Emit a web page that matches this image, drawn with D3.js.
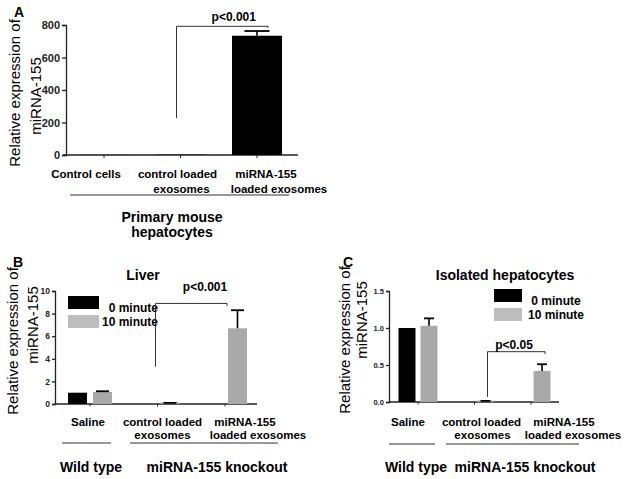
<!DOCTYPE html>
<html>
<head>
<meta charset="utf-8">
<script src="https://cdn.jsdelivr.net/npm/d3@7.9.0/dist/d3.min.js"></script>
<style>
  body { margin: 0; background: #fff; }
  svg { display: block; font-family: Arial, "Liberation Sans", sans-serif; }
  .tick text { font-weight: bold; fill: #222; }
  .domain, .tick line { stroke: #222; stroke-width: 1.3; }
</style>
</head>
<body>
<svg id="chart" width="629" height="479"></svg>
<script>
// panel A: primary mouse hepatocytes
const catsA = ['Control cells', 'control loaded exosomes', 'miRNA-155 loaded exosomes'];
const labelsA = [['Control cells'], ['control  loaded', 'exosomes'], ['miRNA-155', 'loaded exosomes']];
const valuesA = [1, 2, 734];
const errA = [0, 0, 29];
const ticksA = [0, 200, 400, 600, 800];

// panels B and C share categories / series
const catsBC = ['Saline', 'control loaded exosomes', 'miRNA-155 loaded exosomes'];
const labelsBC = [['Saline'], ['control loaded', 'exosomes'], ['miRNA-155', 'loaded exosomes']];
const series = ['0 minute', '10 minute'];
const seriesColors = ['#000000', '#a9a9a9'];

// B: liver
const liver0 = [1.0, 0, 0];
const liver10 = [1.06, 0.07, 6.7];
const liver10Err = [0.07, 0.03, 1.6];
const ticksB = [0, 2, 4, 6, 8, 10];

// C: isolated hepatocytes
const hep0 = [1.0, 0, 0];
const hep10 = [1.03, 0.01, 0.42];
const hep10Err = [0.1, 0.005, 0.09];
const ticksC = [0, 0.5, 1.0, 1.5];

const svg = d3.select('#chart');

function yTitle(g, x1, y1, x2, y2) {
  g.append('text').attr('transform', `translate(${x1},${y1}) rotate(-90)`)
    .attr('text-anchor', 'middle').style('font-size', '15px').text('Relative expression of');
  g.append('text').attr('transform', `translate(${x2},${y2}) rotate(-90)`)
    .attr('text-anchor', 'middle').style('font-size', '15px').text('miRNA-155');
}

function boldText(g, x, y, size, txt, anchor = 'middle') {
  return g.append('text').attr('x', x).attr('y', y).attr('text-anchor', anchor)
    .style('font-size', size + 'px').style('font-weight', 'bold').text(txt);
}

function catLabels(g, x, cats, labels, offsets, y0, lh) {
  cats.forEach((c, i) => {
    labels[i].forEach((line, j) => {
      boldText(g, x(c) + offsets[i][j], y0 + j * lh, 11.5, line);
    });
  });
}

function errBar(g, cx, yTop, yErr, cap) {
  g.append('line').attr('x1', cx).attr('x2', cx).attr('y1', yTop).attr('y2', yErr)
    .attr('stroke', '#000').attr('stroke-width', 1.6);
  g.append('line').attr('x1', cx - cap / 2).attr('x2', cx + cap / 2).attr('y1', yErr).attr('y2', yErr)
    .attr('stroke', '#000').attr('stroke-width', 1.8);
}

function bracket(g, xl, xr, yBottom, yTop, yTick) {
  g.append('path').attr('d', `M${xl},${yBottom}V${yTop}H${xr}V${yTick}`)
    .attr('fill', 'none').attr('stroke', '#333').attr('stroke-width', 1);
}

// ---------- Panel A ----------
{
  const g = svg.append('g');
  const y = d3.scaleLinear().domain([0, 800]).range([155, 25]);
  const x = d3.scalePoint().domain(catsA).range([104, 257]);
  const axisX = 66;

  g.append('g').attr('transform', `translate(${axisX},0)`)
    .call(d3.axisLeft(y).tickValues(ticksA).tickSize(4).tickPadding(2))
    .call(a => a.selectAll('text').style('font-size', '11px'));
  // x axis baseline with small ticks
  g.append('line').attr('x1', axisX - 3).attr('x2', 298).attr('y1', y(0)).attr('y2', y(0))
    .attr('stroke', '#222').attr('stroke-width', 1.3);
  catsA.forEach(c => g.append('line').attr('x1', x(c)).attr('x2', x(c))
    .attr('y1', y(0)).attr('y2', y(0) + 3).attr('stroke', '#222'));

  const bw = 50;
  catsA.forEach((c, i) => {
    g.append('rect').attr('x', x(c) - bw / 2).attr('width', bw)
      .attr('y', y(valuesA[i])).attr('height', y(0) - y(valuesA[i])).attr('fill', '#000');
    if (errA[i] > 0) errBar(g, x(c), y(valuesA[i]), y(valuesA[i] + errA[i]), 25);
  });

  bracket(g, x(catsA[1]) - 4, x(catsA[2]) + 11, y(228), y(792), y(782));
  boldText(g, (x(catsA[1]) + x(catsA[2])) / 2 + 15, 21, 12, 'p<0.001');

  catLabels(g, x, catsA, labelsA, [[-18], [-3, 1], [9, 22]], 178, 15);
  g.append('line').attr('x1', 70).attr('x2', 289).attr('y1', 195).attr('y2', 195)
    .attr('stroke', '#333').attr('stroke-width', 1);
  boldText(g, 172, 222, 14, 'Primary mouse');
  boldText(g, 172, 237, 14, 'hepatocytes');

  yTitle(g, 20, 93, 41, 96);
  boldText(g, 14, 17, 14, 'A', 'start');
}

// ---------- grouped panels B / C ----------
function groupedPanel(opt) {
  const g = svg.append('g');
  const y = d3.scaleLinear().domain(opt.domain).range(opt.yRange);
  const x = d3.scalePoint().domain(catsBC).range(opt.xRange);
  const sub = d3.scalePoint().domain(series).range([-opt.off, opt.off]);

  g.append('g').attr('transform', `translate(${opt.axisX},0)`)
    .call(d3.axisLeft(y).tickValues(opt.ticks).tickSize(3).tickPadding(2)
      .tickFormat(opt.fmt))
    .call(a => a.selectAll('text').style('font-size', opt.tickFont + 'px'));
  g.append('line').attr('x1', opt.axisX).attr('x2', opt.xEnd).attr('y1', y(0)).attr('y2', y(0))
    .attr('stroke', '#222').attr('stroke-width', 1.3);
  catsBC.forEach(c => g.append('line').attr('x1', x(c)).attr('x2', x(c))
    .attr('y1', y(0)).attr('y2', y(0) + 2.5).attr('stroke', '#222'));

  const data = [opt.v0, opt.v10];
  series.forEach((s, si) => {
    catsBC.forEach((c, i) => {
      const v = data[si][i];
      if (v <= 0) return;
      const cx = x(c) + sub(s);
      const top = Math.min(y(v), y(0) - 1.5);
      g.append('rect').attr('x', cx - opt.bw / 2).attr('width', opt.bw)
        .attr('y', top).attr('height', y(0) - top).attr('fill', seriesColors[si]);
    });
  });
  catsBC.forEach((c, i) => {
    const cx = x(c) + sub(series[1]);
    errBar(g, cx, y(opt.v10[i]), y(opt.v10[i] + opt.err[i]), opt.cap);
  });

  // legend
  series.forEach((s, si) => {
    g.append('rect').attr('x', opt.leg.x).attr('y', opt.leg.y + si * 19)
      .attr('width', opt.leg.w).attr('height', 13).attr('fill', si ? '#bdbdbd' : '#000');
    boldText(g, opt.leg.tx, opt.leg.y + 16 + si * 13.5, 12, s, opt.leg.anchor);
  });

  const sb = opt.sig;
  bracket(g, x(catsBC[1]) + sb.dl, x(catsBC[2]) + sb.dr, y(sb.lo), y(sb.hi), y(sb.hi) + 2.5);
  boldText(g, sb.tx, sb.ty, 12, sb.text);

  boldText(g, opt.title.x, 280, 14, opt.title.text);
  catLabels(g, x, catsBC, labelsBC, opt.labOff, 426, 13);

  opt.groups.forEach(gr => {
    g.append('line').attr('x1', gr.x1).attr('x2', gr.x2).attr('y1', opt.lineY).attr('y2', opt.lineY)
      .attr('stroke', '#333').attr('stroke-width', 1);
    boldText(g, gr.tx, 472, 14, gr.text);
  });

  yTitle(g, ...opt.yt);
  boldText(g, opt.letter.x, 267, 14, opt.letter.text, 'start');
}

groupedPanel({
  domain: [0, 10], yRange: [404, 291], xRange: [90, 225], off: 12.5, bw: 19, cap: 13,
  axisX: 55, xEnd: 257, ticks: ticksB, fmt: d3.format('d'), tickFont: 8.5,
  v0: liver0, v10: liver10, err: liver10Err,
  leg: { x: 68, y: 296, w: 31, tx: 158, anchor: 'end' },
  sig: { dl: -2, dr: 2, lo: 3.3, hi: 8.9, text: 'p<0.001', tx: 205, ty: 291 },
  title: { x: 143, text: 'Liver' },
  labOff: [[-2], [5, 5], [20, 33]],
  lineY: 443,
  groups: [{ x1: 62, x2: 111, tx: 91, text: 'Wild type' },
           { x1: 130, x2: 278, tx: 217, text: 'miRNA-155 knockout' }],
  yt: [18, 341, 38, 325],
  letter: { x: 13, text: 'B' }
});

groupedPanel({
  domain: [0, 1.5], yRange: [402, 291], xRange: [418, 531], off: 11, bw: 17, cap: 10,
  axisX: 389, xEnd: 559, ticks: ticksC, fmt: d3.format('.1f'), tickFont: 7.5,
  v0: hep0, v10: hep10, err: hep10Err,
  leg: { x: 494, y: 289, w: 28, tx: 556, anchor: 'middle' },
  sig: { dl: 13, dr: 14, lo: 0.07, hi: 0.68, text: 'p<0.05', tx: 514, ty: 349 },
  title: { x: 505, text: 'Isolated hepatocytes' },
  labOff: [[-10], [7, 8], [33, 42]],
  lineY: 444,
  groups: [{ x1: 389, x2: 435, tx: 416, text: 'Wild type' },
           { x1: 446, x2: 579, tx: 525, text: 'miRNA-155 knockout' }],
  yt: [350, 340, 367, 320],
  letter: { x: 343, text: 'C' }
});
</script>
</body>
</html>
